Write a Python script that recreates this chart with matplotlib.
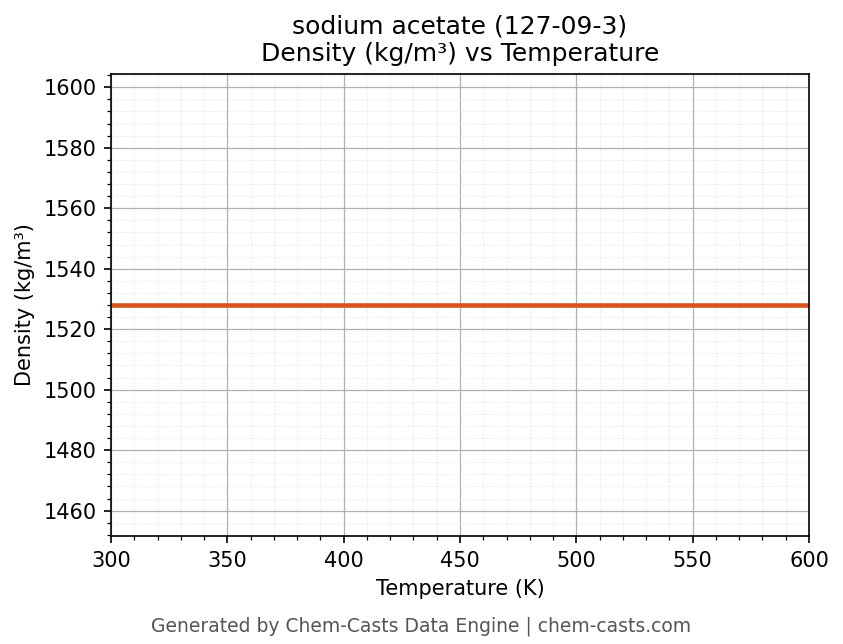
import matplotlib
matplotlib.use("Agg")
import matplotlib.pyplot as plt
from matplotlib.ticker import AutoMinorLocator

temperature = [300, 600]
density = [1528, 1528]

fig = plt.figure(figsize=(843/150, 644/150), dpi=150)
ax = fig.add_axes([111/843, 1-536/644, (809-111)/843, (536-74)/644])
ax.plot(temperature, density, color="#d9531e", linewidth=2.2)
ax.set_xlim(300, 600)
ax.set_ylim(1528*0.95, 1528*1.05)
ax.xaxis.set_minor_locator(AutoMinorLocator(5))
ax.yaxis.set_minor_locator(AutoMinorLocator(5))
ax.grid(which="major", color="#b0b0b0", linewidth=0.6)
ax.grid(which="minor", color="#dddddd", linewidth=0.4, linestyle=":")
ax.set_axisbelow(True)
ax.set_xlabel("Temperature (K)", fontsize=10)
ax.set_ylabel("Density (kg/m³)", fontsize=10)
ax.set_title("sodium acetate (127-09-3)\nDensity (kg/m³) vs Temperature", fontsize=12)
ax.tick_params(labelsize=10)
fig.text(0.5, 18/644, "Generated by Chem-Casts Data Engine | chem-casts.com",
         ha="center", va="center", fontsize=9, color="#555555")
fig.savefig("out.png", dpi=150)
